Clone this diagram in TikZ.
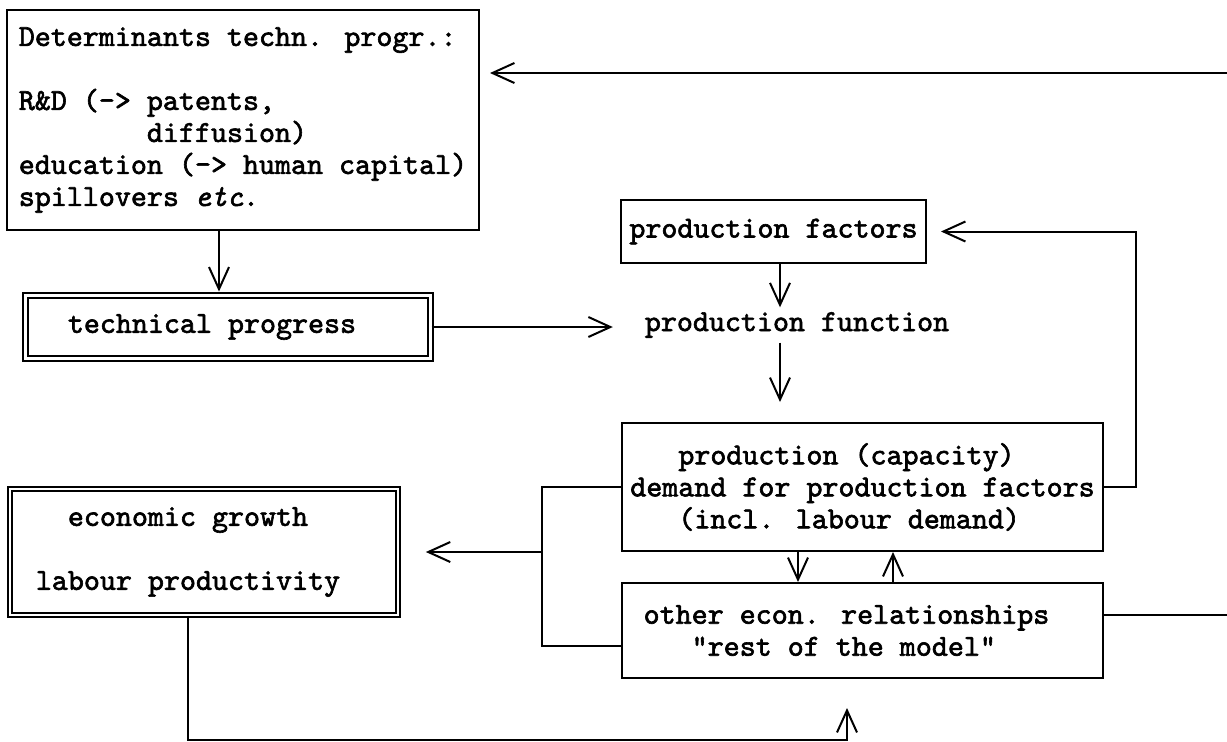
\documentclass[tikz,border=0pt]{standalone}
\usepackage{fontspec}
\newfontfamily\twfont{lmmono10-regular.otf}[FakeBold=2, ItalicFont=lmmono10-italic.otf, ItalicFeatures={FakeBold=2}]
\usetikzlibrary{arrows.meta}
\begin{document}
\begin{tikzpicture}[x=1pt,y=-1pt,
  txt/.style={font=\twfont\fontsize{30.5}{32}\selectfont, align=left, inner sep=0pt},
  box/.style={txt, draw, line width=2pt, rectangle},
  dbox/.style={txt, draw, line width=2pt, double, double distance=3pt, rectangle},
  ln/.style={line width=2pt},
  arr/.style={line width=2pt, -{Straight Barb[length=22pt,width=20pt]}}]
\useasboundingbox[fill=white] (0,0) rectangle (1227,742);

% nodes
\node[box, minimum width=472pt, minimum height=220pt] (det) at (243,120)
  {Determinants techn. progr.:\\[32pt]R\&D (-> patents,\\\hphantom{xxxxxxxx}diffusion)\\education (-> human capital)\\spillovers {\itshape etc}.};
\node[dbox, minimum width=405pt, minimum height=63pt] (tp) at (228,327) {technical progress\hphantom{xx}};
\node[box, minimum width=305pt, minimum height=63pt] (pf) at (773.5,231.5) {production factors};
\node[txt, minimum width=368pt, minimum height=35pt] (pfun) at (797,325) {production function};
\node[box, minimum width=481pt, minimum height=128pt] (prod) at (862.5,487)
  {\hphantom{xxx}production (capacity)\\demand for production factors\\\hphantom{xxx}(incl. labour demand)};
\node[box, minimum width=481pt, minimum height=95pt] (other) at (862.5,630.5)
  {other econ. relationships\hphantom{xx}\\\hphantom{xxx}"rest of the model"};
\node[dbox, line width=1.7pt, double distance=2.4pt, minimum width=388pt, minimum height=126pt] (eg) at (204,552)
  {\hphantom{xx}economic growth\\[32pt]labour productivity\hphantom{xx}};

% helper coordinates
\coordinate (c1) at (219,0);
\coordinate (c2) at (780,0);
\coordinate (c3) at (1136,0);
\coordinate (c4) at (542,646);
\coordinate (c5) at (798,0);
\coordinate (c6) at (893,0);
\coordinate (c7) at (1240,615);
\coordinate (c8) at (1240,73);
\coordinate (c9) at (188,740);
\coordinate (c10) at (847,740);

% connectors
\draw[arr, shorten >=3pt] (det.south -| c1) -- (tp.north -| c1);
\draw[arr] (tp.east) -- (tp.east -| pfun.west);
\draw[arr] (pf.south -| c2) -- (pfun.north -| c2);
\draw[arr, shorten >=20pt] (pfun.south -| c2) -- (prod.north -| c2);
\draw[arr, shorten >=14pt] (prod.east) -- (prod.east -| c3) -- (c3 |- pf.east) -- (pf.east);
\draw[ln] (prod.west) -- (prod.west -| c4) -- (c4) -- (c4 -| other.west);
\draw[arr, shorten >=27pt] (c4 |- eg.east) -- (eg.east);
\draw[arr] (prod.south -| c5) -- (other.north -| c5);
\draw[arr] (other.north -| c6) -- (prod.south -| c6);
\draw[arr, shorten >=10pt] (other.east |- c7) -- (c7) -- (c8) -- (det.east |- c8);
\draw[arr, shorten >=29pt] (eg.south -| c9) -- (c9) -- (c10) -- (c10 |- other.south);
\end{tikzpicture}
\end{document}
